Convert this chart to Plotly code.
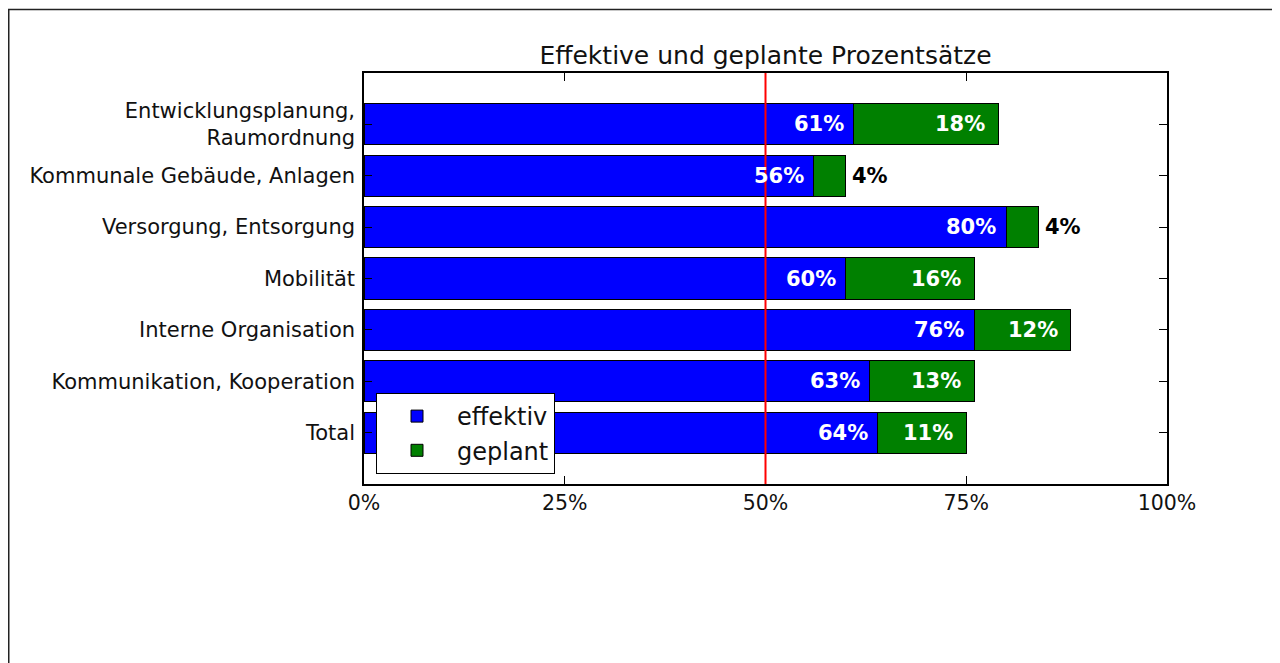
import plotly.graph_objects as go

categories = [
    "Entwicklungsplanung,<br>Raumordnung",
    "Kommunale Gebäude, Anlagen",
    "Versorgung, Entsorgung",
    "Mobilität",
    "Interne Organisation",
    "Kommunikation, Kooperation",
    "Total",
]
effektiv = [61, 56, 80, 60, 76, 63, 64]
geplant = [18, 4, 4, 16, 12, 13, 11]
x_tickvals = [0, 25, 50, 75, 100]
x_ticktext = ["0%", "25%", "50%", "75%", "100%"]
reference_line = 50
title_text = "Effektive und geplante Prozentsätze"

FONT = "DejaVu Sans"
W, H = 1280, 663
OFF = 8  # page body margin
L, R, T, B = 364 - OFF, 1167 - OFF, 73 - OFF, 484 - OFF

fig = go.Figure()
fig.add_trace(go.Bar(
    y=categories, x=effektiv, orientation="h", name="effektiv",
    marker=dict(color="#0000ff", line=dict(color="black", width=1)),
    hoverinfo="x+y",
))
fig.add_trace(go.Bar(
    y=categories, x=geplant, base=effektiv, orientation="h", name="geplant",
    marker=dict(color="#008000", line=dict(color="black", width=1)),
    hoverinfo="x+y",
))

annotations = []
for cat, e, g in zip(categories, effektiv, geplant):
    annotations.append(dict(
        x=e, y=cat, xref="x", yref="y", text=f"<b>{e}%</b>", showarrow=False,
        xanchor="right", yanchor="middle", xshift=-8,
        font=dict(family=FONT, size=21, color="white"),
    ))
    if g >= 8:
        annotations.append(dict(
            x=e + g, y=cat, xref="x", yref="y", text=f"<b>{g}%</b>", showarrow=False,
            xanchor="right", yanchor="middle", xshift=-11,
            font=dict(family=FONT, size=21, color="white"),
        ))
    else:
        annotations.append(dict(
            x=e + g, y=cat, xref="x", yref="y", text=f"<b>{g}%</b>", showarrow=False,
            xanchor="left", yanchor="middle", xshift=4,
            font=dict(family=FONT, size=21, color="black"),
        ))

pw, ph = R - L, B - T
shapes = [
    dict(type="line", xref="x", yref="paper", x0=reference_line, x1=reference_line,
         y0=0, y1=1, line=dict(color="red", width=2), layer="above"),
    # outer frame of the figure (only left and top edges visible)
    dict(type="rect", xref="paper", yref="paper",
         x0=(0.75 - L) / pw, x1=(W + 20 - L) / pw,
         y0=(B - (H + 20)) / ph, y1=(B - 1.5) / ph,
         line=dict(color="#222", width=1.5), fillcolor="rgba(0,0,0,0)", layer="below"),
]

fig.update_layout(
    width=W, height=H,
    margin=dict(l=L, r=W - R, t=T, b=H - B, pad=0),
    paper_bgcolor="white", plot_bgcolor="white",
    barmode="stack", bargap=0.2,
    font=dict(family=FONT, size=21, color="#111"),
    title=dict(text=title_text, x=(L + R) / 2 / W, xanchor="center",
               y=1 - (55 - OFF) / H, yanchor="middle", yref="container",
               font=dict(family=FONT, size=25, color="#111")),
    xaxis=dict(range=[0, 100], tickvals=x_tickvals, ticktext=x_ticktext,
               showgrid=False, zeroline=False, showline=True, linecolor="black",
               linewidth=1.5, mirror="ticks", ticks="inside", ticklen=8,
               tickcolor="black", tickwidth=1, tickfont=dict(size=20.5)),
    yaxis=dict(type="category", categoryorder="array",
               categoryarray=categories[::-1], range=[-1, len(categories)],
               showgrid=False, zeroline=False, showline=True, linecolor="black",
               linewidth=1.5, mirror="ticks", ticks="inside", ticklen=8,
               tickcolor="black", tickwidth=1, tickfont=dict(size=21),
               ticklabelstandoff=3),
    legend=dict(x=(376 - 364) / pw, y=(484 - 393) / ph, xanchor="left", yanchor="top",
                bgcolor="white", bordercolor="black", borderwidth=1,
                font=dict(family=FONT, size=24, color="#111"),
                itemwidth=70, traceorder="normal"),
    annotations=annotations, shapes=shapes,
)

fig.write_html("out.html")
